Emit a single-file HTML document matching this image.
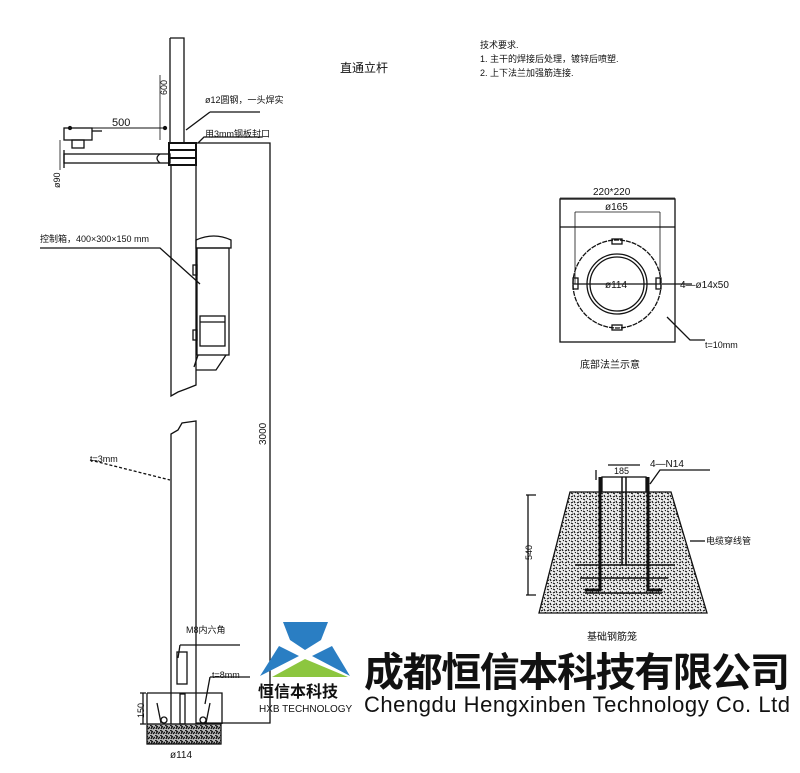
<!DOCTYPE html>
<html><head><meta charset="utf-8"><style>
html,body{margin:0;padding:0;background:#fff;}
svg{display:block;}
text{font-family:"Liberation Sans","Noto Sans CJK SC",sans-serif;fill:#111;}
</style></head><body>
<svg width="800" height="773" viewBox="0 0 800 773" xmlns="http://www.w3.org/2000/svg">
<defs>
<pattern id="conc" width="6" height="6" patternUnits="userSpaceOnUse">
<rect width="6" height="6" fill="#eee"/>
<path d="M1 1l2 1M4 3l1 2M1 5l2-1M5 0l1 1" stroke="#111" stroke-width="1.1"/>
</pattern>
<pattern id="conc2" width="5" height="5" patternUnits="userSpaceOnUse">
<rect width="5" height="5" fill="#bbb"/>
<path d="M0 0l3 2M3 4l2-2M1 4l1-2" stroke="#111" stroke-width="1.3"/>
</pattern>
</defs>
<g fill="none" stroke="#111" stroke-width="1.3">
<path d="M170 38 H184 V143"/>
<path d="M170 38 V143"/>
<rect x="169" y="143" width="27" height="22" stroke-width="2"/>
<line x1="169" y1="150" x2="196" y2="150" stroke-width="2"/>
<line x1="169" y1="158" x2="196" y2="158" stroke-width="2"/>
<path d="M171 165 V396 L178 392 L186 389 L196 385 V165"/>
<path d="M171 724 V434 L178 430 L182 423 L196 421 V724"/>
<rect x="64" y="154" width="106" height="9"/>
<path d="M160 154 q-6 4 0 9" />
<line x1="64" y1="150" x2="64" y2="168"/>
<rect x="64" y="128" width="28" height="12"/>
<path d="M92 131 h10" />
<rect x="72" y="140" width="12" height="8"/>
<line x1="70" y1="128" x2="165" y2="128" stroke-width="1"/>
<circle cx="70" cy="128" r="1.5" fill="#111"/><circle cx="165" cy="128" r="1.5" fill="#111"/>
<path d="M196 143 H270 V723 H196"/>
<rect x="197" y="248" width="32" height="107"/>
<path d="M196 248 h35 v-8 q-17 -8 -35 0 z"/>
<rect x="200" y="316" width="25" height="30"/>
<line x1="200" y1="322" x2="225" y2="322"/>
<rect x="193" y="265" width="4" height="10"/>
<rect x="193" y="330" width="4" height="10"/>
<path d="M198 355 l-4 12 M226 355 l-10 15 l-20 0"/>
<path d="M210 112 H260 M210 112 L186 130"/>
<path d="M198 143 l6 -6 H262"/>
<path d="M40 248 H160 L200 284"/>
<path d="M90 460 L170 480" stroke-dasharray="3 2"/>
<path d="M180 645 H240 M180 645 L178 658"/>
<path d="M210 677 H250 M210 677 L205 704"/>
<rect x="177" y="652" width="10" height="32"/>
<path d="M147 693 V724"/>
<path d="M147 693 H222 V724"/>
<rect x="147" y="724" width="74" height="20" fill="url(#conc2)"/>
<path d="M157 703 l4 20 M210 703 l-4 20"/>
<rect x="180" y="694" width="5" height="30"/>
<circle cx="164" cy="720" r="3"/><circle cx="203" cy="720" r="3"/>
<path d="M143 693 v31 M140 693 h6 M140 724 h6"/>
<path d="M160 75 v65" stroke-width="0.8"/>
<path d="M60 140 v30" stroke-width="0.8"/>

<rect x="560" y="199" width="115" height="143"/>
<line x1="560" y1="227" x2="675" y2="227"/>
<path d="M560 198 H675" stroke-width="0.8"/>
<path d="M575 212 H660" stroke-width="0.8"/>
<line x1="575" y1="212" x2="575" y2="284" stroke-width="0.8"/>
<line x1="660" y1="212" x2="660" y2="284" stroke-width="0.8"/>
<circle cx="617" cy="284" r="44" stroke-dasharray="5 1"/>
<circle cx="617" cy="284" r="30"/>
<circle cx="617" cy="284" r="27"/>
<line x1="573" y1="284" x2="661" y2="284"/>
<rect x="573" y="278" width="5" height="11"/><rect x="656" y="278" width="5" height="11"/>
<rect x="612" y="239" width="10" height="5"/><rect x="612" y="325" width="10" height="5"/>
<path d="M662 284 H692 M667 317 L690 340 H705"/>

<path d="M570 492 H671 L707 613 H539 Z" fill="url(#conc)"/>
<rect x="602" y="477" width="44" height="15" fill="#fff"/>
<path d="M600 477 V590 H585 M648 477 V590 H662" stroke-width="3"/>
<path d="M622 477 V565 M626 477 V565" stroke-width="1.5"/>
<path d="M575 565 H675 M580 578 H668 M585 593 H662" stroke-width="1.5"/>
<path d="M528 495 V595 M526 495 h10 M526 595 h10"/>
<path d="M596 470 v10 M608 465 H640"/>
<path d="M650 484 L660 470 H710"/>
<path d="M690 541 H705"/>
</g>
<g font-size="9">
<text x="205" y="103">ø12圆钢，一头焊实</text>
<text x="205" y="137">用3mm钢板封口</text>
<text x="112" y="126" font-size="11">500</text>
<text x="40" y="242">控制箱，400×300×150 mm</text>
<text x="90" y="462">t=3mm</text>
<text x="186" y="633">M8内六角</text>
<text x="212" y="678">t=8mm</text>
<text x="170" y="758" font-size="10">ø114</text>
<text transform="translate(167 95) rotate(-90)" font-size="9">600</text>
<text transform="translate(60 188) rotate(-90)" font-size="9">ø90</text>
<text transform="translate(266 445) rotate(-90)" font-size="10">3000</text>
<text transform="translate(144 718) rotate(-90)" font-size="9">150</text>
<text x="340" y="72" font-size="12">直通立杆</text>
<text x="480" y="48">技术要求.</text>
<text x="480" y="62">1. 主干的焊接后处理，镀锌后喷塑.</text>
<text x="480" y="76">2. 上下法兰加强筋连接.</text>
<text x="593" y="195" font-size="10">220*220</text>
<text x="605" y="210" font-size="10">ø165</text>
<text x="605" y="288" font-size="10">ø114</text>
<text x="680" y="288" font-size="10">4—ø14x50</text>
<text x="705" y="348" font-size="9">t=10mm</text>
<text x="580" y="368" font-size="10">底部法兰示意</text>
<text x="614" y="474" font-size="9">185</text>
<text x="650" y="467" font-size="10">4—N14</text>
<text x="706" y="544" font-size="9">电缆穿线管</text>
<text transform="translate(532 560) rotate(-90)" font-size="9">540</text>
<text x="587" y="640" font-size="10">基础钢筋笼</text>
</g>
<polygon points="283,622 328,622 321,640 305,650 290,640" fill="#2a7ec3"/>
<polygon points="279,646 299,656 260,676" fill="#2a7ec3"/>
<polygon points="332,646 350,676 312,656" fill="#2a7ec3"/>
<polygon points="272,677 305,659 348,677" fill="#8cc63f"/>
<text x="258" y="697" font-size="16" font-weight="bold" style="font-family:'Noto Sans CJK SC',sans-serif" fill="#222">恒信本科技</text>
<text x="259" y="712" font-size="10" fill="#333">HXB TECHNOLOGY</text>
<text x="364" y="686" font-size="40" font-weight="bold" style="font-family:'Noto Sans CJK SC',sans-serif" fill="#222" textLength="426">成都恒信本科技有限公司</text>
<text x="364" y="712" font-size="22" fill="#222" textLength="426">Chengdu Hengxinben Technology Co. Ltd</text>
</svg>
</body></html>
